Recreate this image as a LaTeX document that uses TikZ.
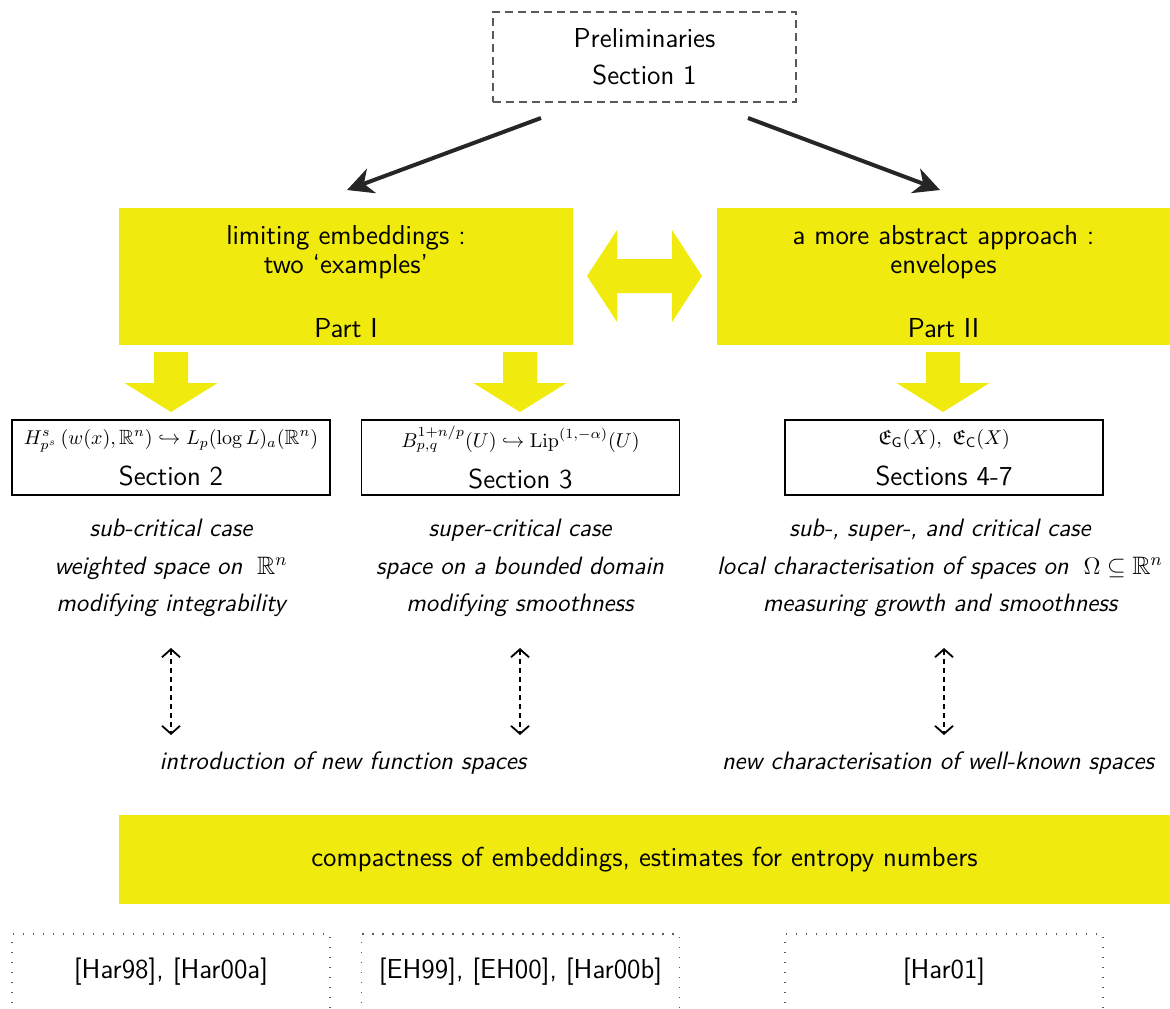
\documentclass[tikz,border=0pt]{standalone}
\usepackage{amssymb}
\usepackage{xcolor}
\definecolor{ylw}{rgb}{0.945,0.918,0.055}
\definecolor{dgray}{rgb}{0.35,0.35,0.35}
\usepackage{tikz}
\usetikzlibrary{positioning, arrows.meta}
\renewcommand{\familydefault}{\sfdefault}
\newcommand{\mathsz}{\fontsize{10.3}{13}\selectfont}

\begin{document}
\begin{tikzpicture}
[x=0.5pt, y=-0.5pt,
 font={\fontsize{13.7}{16.5}\selectfont},
 prelim/.style={draw=dgray, line width=0.65pt, dash pattern=on 4pt off 2.5pt,
   minimum width=151.5pt, minimum height=45pt, align=center},
 part/.style={fill=ylw, minimum width=227pt, minimum height=68.5pt, inner sep=0pt},
 sect/.style={draw, line width=0.6pt, minimum width=159pt, minimum height=37.5pt,
   inner sep=1pt, align=center},
 refs/.style={draw=dgray, line width=0.7pt, dash pattern=on 0.7pt off 4.3pt,
   minimum width=159pt, minimum height=38pt},
 case/.style={font={\fontsize{12.6}{16.5}\selectfont\itshape}, align=center},
 fat/.style={-{Stealth[length=13pt,width=13pt,inset=4pt]}, line width=2pt, draw=black!85},
 link/.style={{Straight Barb[length=4pt,width=9pt]}-{Straight Barb[length=4pt,width=9pt]},
   line width=0.9pt, dash pattern=on 2.5pt off 2pt},
]

\clip (0,0) rectangle (1170,1008);

\node[prelim] (pre) at (644.5,57) {Preliminaries\\[2pt]Section 1};

\node[part] (p1) at (346,276.5) {};
\node[part] (p2) at (943.5,276.5) {};
\node[align=center] (t1) at (346,252.5) {limiting embeddings :\\[-2pt]two `examples'};
\node (pt1) at (346,328) {Part I};
\node[align=center] (t2) at (943.5,252.5) {a more abstract approach :\\[-2pt]envelopes};
\node (pt2) at (943.5,328) {Part II};

\fill[ylw] (587,276) -- (617,230) -- (617,259) -- (672,259) -- (672,230) -- (702,276)
  -- (672,322) -- (672,293) -- (617,293) -- (617,322) -- cycle;

\foreach \c in {171,520,943}
  \fill[ylw] (\c-17,352) -- (\c+17,352) -- (\c+17,383) -- (\c+46.5,383) -- (\c,412)
    -- (\c-46.5,383) -- (\c-17,383) -- cycle;

\node[sect] (s2) at (171,457.5)
  {{\mathsz$H^s_{p^s}\,(w(x),\mathbb{R}^n)\hookrightarrow L_p(\log L)_a(\mathbb{R}^n)$}\\[4pt]Section 2};
\node[sect] (s3) at (520.5,457.5)
  {{\mathsz$B^{1+n/p}_{p,q}(U)\hookrightarrow \mathrm{Lip}^{(1,-\alpha)}(U)$}\\[4pt]Section 3};
\node[sect] (s4) at (944,457.5)
  {{\mathsz$\mathfrak{E}_{\mathsf{G}}(X),\ \mathfrak{E}_{\mathsf{C}}(X)$}\\[4pt]Sections 4-7};

\node[case] (c1) at (171,568) {sub-critical case\\[2.25pt]weighted space on $\;\mathbb{R}^n$\\[2.25pt]modifying integrability};
\node[case] (c2) at (520,568) {super-critical case\\[2.25pt]space on a bounded domain\\[2.25pt]modifying smoothness};
\node[case] (c4) at (940,568) {sub-, super-, and critical case\\[2.25pt]local characterisation of spaces on $\;\Omega\subseteq\mathbb{R}^n$\\[2.25pt]measuring growth and smoothness};

\node[case] (intro) at (343,763) {introduction of new function spaces};
\node[case] (wellk) at (938,763) {new characterisation of well-known spaces};

\node[part, minimum width=525.5pt, minimum height=44.5pt] (cmp) at (644.5,859.5)
  {compactness of embeddings, estimates for entropy numbers};

\node[refs] (r1) at (171,972) {[Har98], [Har00a]};
\node[refs] (r2) at (520.5,972) {[EH99], [EH00], [Har00b]};
\node[refs] (r3) at (944,972) {[Har01]};

\coordinate (a1) at (541,118);
\coordinate (a2) at (347,190);
\coordinate (b1) at (748,118);
\coordinate (b2) at (940,190);
\draw[fat] (a1) -- (a2);
\draw[fat] (b1) -- (b2);

\draw[link, shorten <=40pt, shorten >=14pt] (c1.center) -- (c1.center |- intro.center);
\draw[link, shorten <=40pt, shorten >=14pt] (c2.center) -- (c2.center |- intro.center);
\draw[link, shorten <=40pt, shorten >=14pt] (c4.center -| s4.center) -- (s4.center |- wellk.center);
\end{tikzpicture}
\end{document}
